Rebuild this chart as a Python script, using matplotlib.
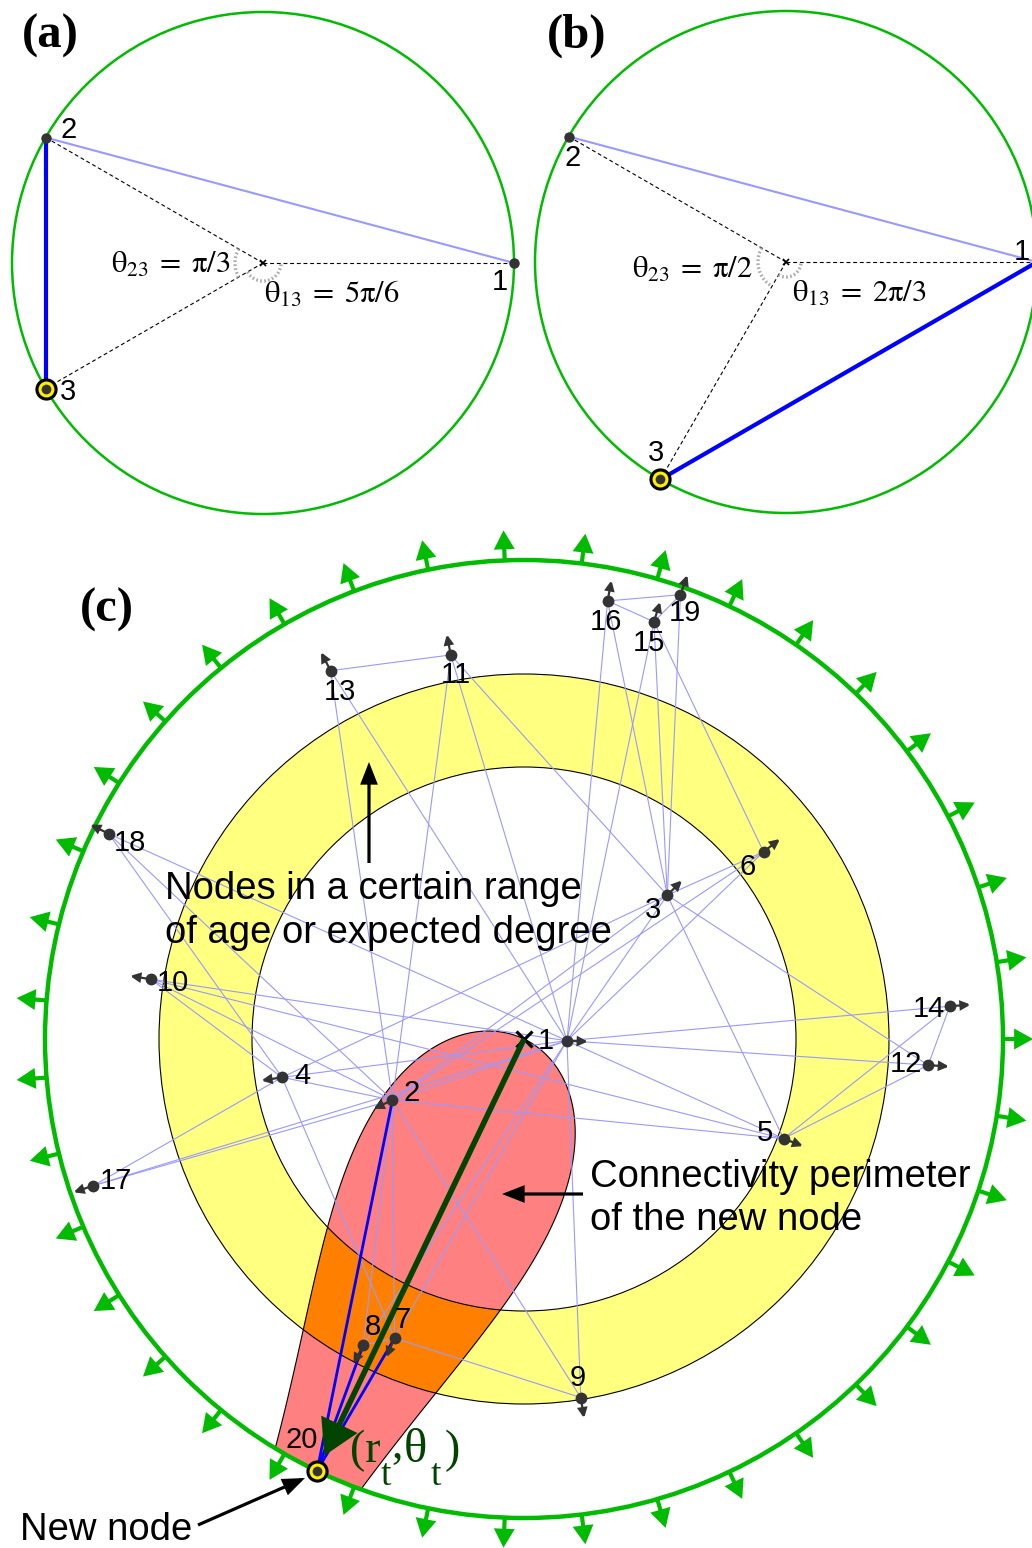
import numpy as np
import matplotlib
matplotlib.use('Agg')
import matplotlib.pyplot as plt
from matplotlib.patches import Circle, Wedge, Polygon, FancyArrowPatch

plt.rcParams['mathtext.fontset'] = 'stix'
SANS = ['Liberation Sans', 'DejaVu Sans']
SERIF = ['Liberation Serif', 'DejaVu Serif']

# ---------------------------- data ----------------------------
# panels (a) and (b): angular coordinates (deg) of nodes 1, 2, 3
small_labels = ['1', '2', '3']
a_node_theta = [0, 150, 210]
b_node_theta = [0, 150, 240]
a_angle_texts = [r'$\mathrm{\theta_{23}}\;=\;\mathrm{\pi/3}$', r'$\mathrm{\theta_{13}}\;=\;\mathrm{5\pi/6}$']
b_angle_texts = [r'$\mathrm{\theta_{23}}\;=\;\mathrm{\pi/2}$', r'$\mathrm{\theta_{13}}\;=\;\mathrm{2\pi/3}$']

# panel (c): nodes 1..20, radial coordinate (px from centre) and angle (deg)
node_ids = list(range(1, 21))
node_r = [43, 145, 203, 245, 278, 304, 326, 346, 363, 378,
          391, 405, 416, 427, 437, 446, 455, 463, 471, 479]
node_theta = [357.7, 204.9, 45.1, 189.0, 339.0, 38.0, 246.6, 242.3, 279.0, 170.9,
              100.8, 356.3, 117.7, 4.4, 72.7, 79.2, 198.8, 153.7, 70.6, 244.4]
edges = [(1, 2), (1, 3), (1, 4), (1, 5), (1, 6), (1, 7), (1, 8), (1, 9), (1, 10),
         (1, 11), (1, 12), (1, 13), (1, 14), (1, 15), (1, 16), (1, 17), (1, 18),
         (2, 3), (2, 4), (2, 5), (2, 6), (2, 7), (2, 8), (2, 9), (2, 10), (2, 11),
         (2, 13), (2, 17), (2, 18),
         (3, 4), (3, 5), (3, 6), (3, 11), (3, 12), (3, 15), (3, 16), (3, 19),
         (4, 7), (4, 10), (4, 17), (4, 18),
         (5, 10), (5, 12), (5, 14),
         (6, 15), (7, 8), (7, 9), (11, 13), (12, 14),
         (15, 16), (15, 19), (16, 19)]
new_node = 20
new_edges = [(20, 2), (20, 7), (20, 8)]
n_ticks = 39
hyper_R = 6.0          # hyperbolic disc radius used for the connectivity perimeter
ring_radii = (272, 365)  # age / expected-degree annulus (px)

# ---------------------------- style ----------------------------
GREEN = '#00bb00'
LIGHT = '#9999ff'
BLUE = '#0000ff'
NODE = '#333333'
DKGREEN = '#004400'
NUM_FS = 21

fig = plt.figure(figsize=(10.32, 15.48), dpi=100)
ax = fig.add_axes([0, 0, 1, 1])
ax.set_xlim(0, 1032)
ax.set_ylim(1548, 0)
ax.set_axis_off()


def pt(c, r, ang):
    t = np.deg2rad(ang)
    return np.array([c[0] + r * np.cos(t), c[1] - r * np.sin(t)])


def arrow(p0, p1, color, lw, hl, hw, z):
    ax.add_patch(FancyArrowPatch(tuple(p0), tuple(p1),
                                 arrowstyle=f'-|>,head_length={hl},head_width={hw}',
                                 mutation_scale=1, lw=lw, color=color,
                                 shrinkA=0, shrinkB=0, zorder=z,
                                 joinstyle='miter', capstyle='butt'))


def new_node_marker(p, z):
    ax.plot(p[0], p[1], 'o', ms=16, mfc='black', mec='none', zorder=z)
    ax.plot(p[0], p[1], 'o', ms=11.5, mfc='#ffee00', mec='none', zorder=z + 0.1)
    ax.plot(p[0], p[1], 'o', ms=7, mfc=NODE, mec='none', zorder=z + 0.2)


def arc(c, r, a0, a1):
    t = np.linspace(a0, a1, 60)
    p = np.array([pt(c, r, a) for a in t])
    ax.plot(p[:, 0], p[:, 1], color='#aaaaaa', lw=2.4, ls=(0, (0.5, 0.7)), zorder=2)


def small_panel(C, R, thetas, thick_pair, label_pos, texts, text_pos, arcs):
    ax.add_patch(Circle(C, R, fill=False, ec=GREEN, lw=1.8, zorder=3))
    P = [pt(C, R, t) for t in thetas]
    for p in P:
        ax.plot([C[0], p[0]], [C[1], p[1]], color='black', lw=0.8,
                ls=(0, (3.5, 2.5)), zorder=2)
    ax.plot([P[1][0], P[0][0]], [P[1][1], P[0][1]], color=LIGHT, lw=1.5, zorder=4)
    i, j = thick_pair
    ax.plot([P[i][0], P[j][0]], [P[i][1], P[j][1]], color=BLUE, lw=3, zorder=4)
    for (r, a0, a1) in arcs:
        arc(C, r, a0, a1)
    ax.plot(C[0], C[1], 'x', color='black', ms=5, mew=1.2, zorder=5)
    for k in range(2):
        ax.plot(P[k][0], P[k][1], 'o', ms=7.5, mfc=NODE, mec='none', zorder=6)
    new_node_marker(P[2], 6)
    for lab, p, (dx, dy) in zip(small_labels, P, label_pos):
        ax.text(p[0] + dx, p[1] + dy, lab, fontsize=NUM_FS, family=SANS,
                ha='center', va='center', zorder=7)
    for t, (x, y) in zip(texts, text_pos):
        ax.text(x, y, t, fontsize=22, ha='left', va='baseline', zorder=7)


# panel (a)
small_panel((263, 263), 251, a_node_theta, (2, 1),
            [(-14, 19), (23, -7), (22, 4)],
            a_angle_texts, [(111, 273), (264, 303)],
            [(28, 150, 210), (18, 210, 360)])
# panel (b)
small_panel((786, 262), 251, b_node_theta, (2, 0),
            [(-15, -10), (4, 22), (-4, -26)],
            b_angle_texts, [(632, 278), (792, 302)],
            [(28, 150, 240), (15, 240, 360)])

for lab, x, y in [('(a)', 22, 48), ('(b)', 547, 48), ('(c)', 80, 622)]:
    ax.text(x, y, lab, fontsize=35, family=SERIF, fontweight='bold',
            ha='left', va='baseline', zorder=12)

# ---------------------------- panel (c) ----------------------------
Cc = (524, 1039)
R_OUT = 479
pos = {i: pt(Cc, r, t) for i, r, t in zip(node_ids, node_r, node_theta)}

# annulus
r_in, r_out = ring_radii
ax.add_patch(Wedge(Cc, r_out, 0, 360, width=r_out - r_in, fc='#ffff80', ec='none', zorder=1))

# connectivity perimeter (hyperbolic disc of radius R around the new node)
th_new = node_theta[new_node - 1]
dth = np.linspace(-90, 90, 1441)
arg = np.clip(np.tanh(hyper_R) * np.cos(np.deg2rad(dth)), 0, 0.9999999999)
rh = np.minimum(2 * np.arctanh(arg), hyper_R)
rho = rh / hyper_R * R_OUT
poly = np.array([pt(Cc, r, th_new + d) for r, d in zip(rho, dth)])
red = Polygon(poly, closed=True, fc='#ff8080', ec='none', zorder=2)
ax.add_patch(red)
orange = Wedge(Cc, r_out, 0, 360, width=r_out - r_in, fc='#ff8000', ec='none', zorder=3)
ax.add_patch(orange)
orange.set_clip_path(red)
ax.add_patch(Polygon(poly, closed=True, fill=False, ec='black', lw=0.8, zorder=4))
for rr in ring_radii:
    ax.add_patch(Circle(Cc, rr, fill=False, ec='black', lw=0.8, zorder=4))

# edges
for i, j in edges:
    ax.plot([pos[i][0], pos[j][0]], [pos[i][1], pos[j][1]], color=LIGHT, lw=0.8, zorder=5)
for i, j in new_edges:
    ax.plot([pos[i][0], pos[j][0]], [pos[i][1], pos[j][1]], color=BLUE, lw=2.0, zorder=6)

# outer boundary with drift arrows
ax.add_patch(Circle(Cc, R_OUT, fill=False, ec=GREEN, lw=3.2, zorder=7))
for k in range(n_ticks):
    a = k * 360.0 / n_ticks
    arrow(pt(Cc, R_OUT, a), pt(Cc, R_OUT + 30, a), GREEN, 3.0, 9, 5, 7)

# origin and vector to new node
ax.plot(Cc[0], Cc[1], 'x', color='black', ms=11, mew=2.3, zorder=7.5)
u = (pos[new_node] - np.array(Cc)) / R_OUT
arrow(Cc, pos[new_node] - 17 * u, DKGREEN, 4.0, 19, 11, 8)

# nodes with radial drift arrows
for i in node_ids:
    if i == new_node:
        continue
    t = node_theta[i - 1]
    arrow(pos[i], pt(Cc, node_r[i - 1] + 21, t), NODE, 1.6, 5.5, 2.6, 8.5)
    ax.plot(pos[i][0], pos[i][1], 'o', ms=8.5, mfc=NODE, mec='none', zorder=9)
new_node_marker(pos[new_node], 9.5)

label_off = {1: (-21, 0), 2: (19, -7), 3: (-14, 15), 4: (20, -1), 5: (-19, -6),
             6: (-16, 15), 7: (8, -18), 8: (10, -18), 9: (-3, -20), 10: (22, 4),
             11: (5, 20), 12: (-22, -1), 13: (9, 21), 14: (-21, 3), 15: (-5, 21),
             16: (-2, 21), 17: (23, -5), 18: (21, 9), 19: (4, 18), 20: (-15, -31)}
for i in node_ids:
    dx, dy = label_off[i]
    ax.text(pos[i][0] + dx, pos[i][1] + dy, str(i), fontsize=NUM_FS, family=SANS,
            ha='center', va='center', zorder=10)

# (r_t, theta_t)
ax.text(350, 1462, '(r', fontsize=33, family=SERIF, color=DKGREEN, ha='left', va='baseline', zorder=10)
ax.text(381, 1485, 't', fontsize=27, family=SERIF, color=DKGREEN, ha='left', va='baseline', zorder=10)
ax.text(391, 1458, ',', fontsize=33, family=SERIF, color=DKGREEN, ha='left', va='baseline', zorder=10)
ax.text(404, 1462, 'θ', fontsize=35, family=SERIF, color=DKGREEN, ha='left', va='baseline', zorder=10)
ax.text(431, 1485, 't', fontsize=27, family=SERIF, color=DKGREEN, ha='left', va='baseline', zorder=10)
ax.text(445, 1462, ')', fontsize=33, family=SERIF, color=DKGREEN, ha='left', va='baseline', zorder=10)

# annotations
ax.text(165, 899, 'Nodes in a certain range', fontsize=27.5, family=SANS, ha='left', va='baseline', zorder=12)
ax.text(165, 943, 'of age or expected degree', fontsize=27.5, family=SANS, ha='left', va='baseline', zorder=12)
ax.text(590, 1187, 'Connectivity perimeter', fontsize=27.5, family=SANS, ha='left', va='baseline', zorder=12)
ax.text(590, 1230, 'of the new node', fontsize=27.5, family=SANS, ha='left', va='baseline', zorder=12)
ax.text(20, 1540, 'New node', fontsize=27.5, family=SANS, ha='left', va='baseline', zorder=12)
arrow((369, 863), (369, 762), 'black', 2.3, 12, 4.7, 12)
arrow((583, 1194), (502, 1194), 'black', 2.3, 12, 4.7, 12)
arrow((198, 1525), (305, 1478), 'black', 2.3, 12, 4.7, 12)

fig.savefig('out.png', dpi=100)
